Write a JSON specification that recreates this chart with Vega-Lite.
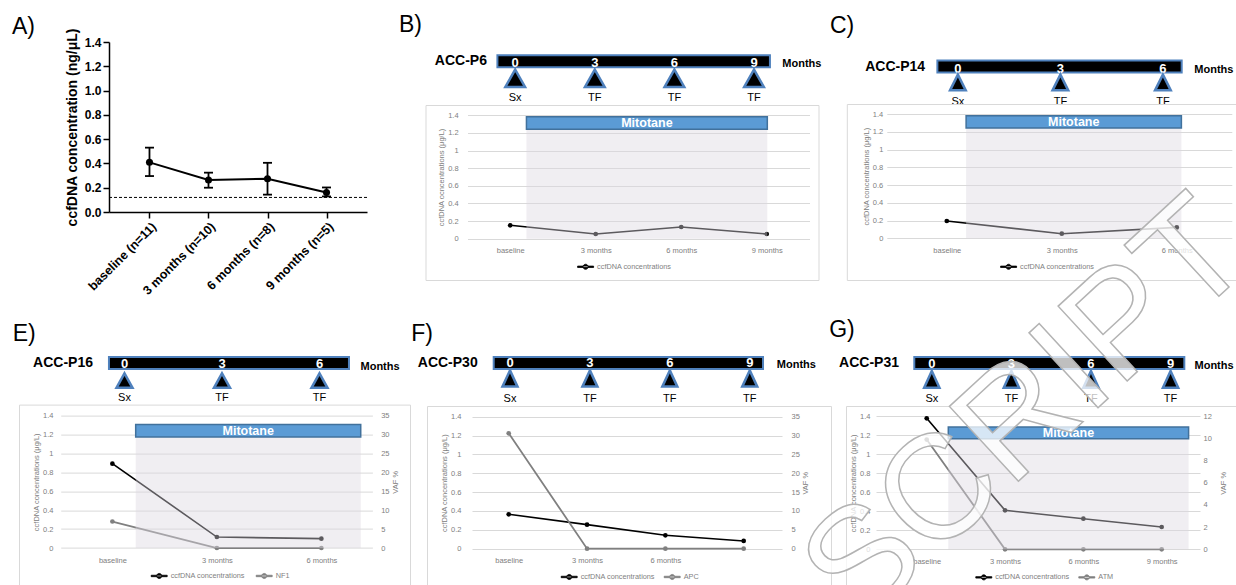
{
"$schema":"https://vega.github.io/schema/vega-lite/v6.json",
"background":"white",
"padding":{"left":11,"top":14,"right":0,"bottom":0},
"config":{"font":"Liberation Sans","view":{"stroke":null},
 "title":{"font":"Liberation Sans","fontSize":23,"fontWeight":"normal","color":"black","anchor":"start","baseline":"alphabetic","frame":"group"},
 "axis":{"labelFont":"Liberation Sans","titleFont":"Liberation Sans"},
 "legend":{"labelFont":"Liberation Sans"}},
"spacing":-124,
"resolve":{"scale":{"color":"independent"},"legend":{"color":"independent"}},
"vconcat":[
{"spacing":0,"resolve":{"scale":{"color":"independent"},"legend":{"color":"independent"}},"hconcat":[
 {"width":1,"height":1,"data":{"values":[]},"mark":{"type":"point"},"encoding":{}},
 {"spacing":30.5,"resolve":{"scale":{"color":"independent"},"legend":{"color":"independent"}},"hconcat":[
 {"title":{"text":"A)","dx":-97,"offset":-10.9},
  "width":258,"height":170,
  "data":{"values":[{"g":"baseline (n=11)","mean":0.409,"lo":0.296,"hi":0.53},{"g":"3 months (n=10)","mean":0.263,"lo":0.2,"hi":0.324},{"g":"6 months (n=8)","mean":0.274,"lo":0.143,"hi":0.405},{"g":"9 months (n=5)","mean":0.16,"lo":0.128,"hi":0.202}]},
  "layer":[
   {"data":{"values":[{"lod":0.12}]},"mark":{"type":"rule","color":"black","strokeWidth":1,"strokeDash":[3,2]},
    "encoding":{"y":{"field":"lod","type":"quantitative","title":"ccfDNA concentration (ng/μL)","scale":{"domain":[0,1.4],"nice":false},"axis":{"values":[0,0.2,0.4,0.6,0.8,1,1.2,1.4],"format":".1f","labelFontSize":12,"labelFontWeight":"bold","labelColor":"black","tickSize":6,"tickWidth":1.5,"tickColor":"black","domainColor":"black","domainWidth":1.5,"labelPadding":2,"grid":false,"titleFontSize":14,"titleFontWeight":"bold","titleColor":"black","titlePadding":5}}}},
   {"mark":{"type":"rule","color":"black","strokeWidth":1.8},
    "encoding":{"x":{"field":"g","type":"ordinal","sort":null,"title":null,"scale":{"type":"point","padding":0.686},"axis":{"labelAngle":-45,"labelFontSize":12.5,"labelFontWeight":"bold","labelColor":"black","tickSize":6,"tickWidth":1.5,"tickColor":"black","domainColor":"black","domainWidth":1.5,"labelPadding":2,"grid":false,"labelOverlap":false}},
     "y":{"field":"lo","type":"quantitative","title":"ccfDNA concentration (ng/μL)","scale":{"domain":[0,1.4],"nice":false},"axis":{"values":[0,0.2,0.4,0.6,0.8,1,1.2,1.4],"format":".1f","labelFontSize":12,"labelFontWeight":"bold","labelColor":"black","tickSize":6,"tickWidth":1.5,"tickColor":"black","domainColor":"black","domainWidth":1.5,"labelPadding":2,"grid":false,"titleFontSize":14,"titleFontWeight":"bold","titleColor":"black","titlePadding":5}},
     "y2":{"field":"hi"}}},
   {"mark":{"type":"tick","color":"black","thickness":1.8,"size":9,"opacity":1},
    "encoding":{"x":{"field":"g","type":"ordinal","sort":null,"title":null,"scale":{"type":"point","padding":0.686},"axis":{"labelAngle":-45,"labelFontSize":12.5,"labelFontWeight":"bold","labelColor":"black","tickSize":6,"tickWidth":1.5,"tickColor":"black","domainColor":"black","domainWidth":1.5,"labelPadding":2,"grid":false,"labelOverlap":false}},
     "y":{"field":"lo","type":"quantitative","title":"ccfDNA concentration (ng/μL)","scale":{"domain":[0,1.4],"nice":false},"axis":{"values":[0,0.2,0.4,0.6,0.8,1,1.2,1.4],"format":".1f","labelFontSize":12,"labelFontWeight":"bold","labelColor":"black","tickSize":6,"tickWidth":1.5,"tickColor":"black","domainColor":"black","domainWidth":1.5,"labelPadding":2,"grid":false,"titleFontSize":14,"titleFontWeight":"bold","titleColor":"black","titlePadding":5}}}},
   {"mark":{"type":"tick","color":"black","thickness":1.8,"size":9,"opacity":1},
    "encoding":{"x":{"field":"g","type":"ordinal","sort":null,"title":null,"scale":{"type":"point","padding":0.686},"axis":{"labelAngle":-45,"labelFontSize":12.5,"labelFontWeight":"bold","labelColor":"black","tickSize":6,"tickWidth":1.5,"tickColor":"black","domainColor":"black","domainWidth":1.5,"labelPadding":2,"grid":false,"labelOverlap":false}},
     "y":{"field":"hi","type":"quantitative","title":"ccfDNA concentration (ng/μL)","scale":{"domain":[0,1.4],"nice":false},"axis":{"values":[0,0.2,0.4,0.6,0.8,1,1.2,1.4],"format":".1f","labelFontSize":12,"labelFontWeight":"bold","labelColor":"black","tickSize":6,"tickWidth":1.5,"tickColor":"black","domainColor":"black","domainWidth":1.5,"labelPadding":2,"grid":false,"titleFontSize":14,"titleFontWeight":"bold","titleColor":"black","titlePadding":5}}}},
   {"mark":{"type":"line","color":"black","strokeWidth":2},
    "encoding":{"x":{"field":"g","type":"ordinal","sort":null,"title":null,"scale":{"type":"point","padding":0.686},"axis":{"labelAngle":-45,"labelFontSize":12.5,"labelFontWeight":"bold","labelColor":"black","tickSize":6,"tickWidth":1.5,"tickColor":"black","domainColor":"black","domainWidth":1.5,"labelPadding":2,"grid":false,"labelOverlap":false}},
     "y":{"field":"mean","type":"quantitative","title":"ccfDNA concentration (ng/μL)","scale":{"domain":[0,1.4],"nice":false},"axis":{"values":[0,0.2,0.4,0.6,0.8,1,1.2,1.4],"format":".1f","labelFontSize":12,"labelFontWeight":"bold","labelColor":"black","tickSize":6,"tickWidth":1.5,"tickColor":"black","domainColor":"black","domainWidth":1.5,"labelPadding":2,"grid":false,"titleFontSize":14,"titleFontWeight":"bold","titleColor":"black","titlePadding":5}}}},
   {"mark":{"type":"point","filled":true,"color":"black","size":50,"opacity":1},
    "encoding":{"x":{"field":"g","type":"ordinal","sort":null,"title":null,"scale":{"type":"point","padding":0.686},"axis":{"labelAngle":-45,"labelFontSize":12.5,"labelFontWeight":"bold","labelColor":"black","tickSize":6,"tickWidth":1.5,"tickColor":"black","domainColor":"black","domainWidth":1.5,"labelPadding":2,"grid":false,"labelOverlap":false}},
     "y":{"field":"mean","type":"quantitative","title":"ccfDNA concentration (ng/μL)","scale":{"domain":[0,1.4],"nice":false},"axis":{"values":[0,0.2,0.4,0.6,0.8,1,1.2,1.4],"format":".1f","labelFontSize":12,"labelFontWeight":"bold","labelColor":"black","tickSize":6,"tickWidth":1.5,"tickColor":"black","domainColor":"black","domainWidth":1.5,"labelPadding":2,"grid":false,"titleFontSize":14,"titleFontWeight":"bold","titleColor":"black","titlePadding":5}}}}
  ]},
 {"spacing":8.3,"resolve":{"scale":{"color":"independent"},"legend":{"color":"independent"}},"hconcat":[
  {"title":{"text":"B)","dx":-26.5,"offset":4.9},"bounds":"flush","spacing":37,
   "vconcat":[
    {"width":393,"height":25.3,
     "title":{"text":"ACC-P6","orient":"left","angle":0,"align":"right","baseline":"middle","anchor":"middle","offset":-113.6,"fontSize":14,"fontWeight":"bold","dy":6.65},
     "data":{"values":[{"m":0,"num":"0","ev":"Sx","track":"t"},{"m":3,"num":"3","ev":"TF","track":"t"},{"m":6,"num":"6","ev":"TF","track":"t"},{"m":9,"num":"9","ev":"TF","track":"t"}]},
     "encoding":{"x":{"field":"m","type":"quantitative","title":"Months","scale":{"domain":[-3.38,11.43],"nice":false,"zero":false},"axis":{"orient":"top","domain":false,"ticks":false,"labels":false,"grid":false,"titleX":356.3,"titleY":21.6,"titleAlign":"left","titleBaseline":"middle","titleAngle":0,"titleFontSize":11,"titleFontWeight":"bold","titleColor":"black","titlePadding":0}},
      "y":{"field":"track","type":"nominal","scale":{"range":[13.3,25.3],"paddingInner":0,"paddingOuter":0},"axis":null}},
     "layer":[
      {"data":{"values":[{"m":-0.67,"m2":9.6,"track":"t"}]},"mark":{"type":"rect","fill":"black","stroke":"#4f81bd","strokeWidth":2},"encoding":{"x2":{"field":"m2"}}},
      {"mark":{"type":"text","color":"white","fontSize":13,"fontWeight":"bold","baseline":"middle","dy":1.7},"encoding":{"text":{"field":"num"}}},
      {"mark":{"type":"point","shape":"M0,-0.88L1,0.88L-1,0.88Z","size":388,"filled":true,"fill":"black","stroke":"#4f81bd","strokeWidth":2.5,"opacity":1,"yOffset":17}},
      {"mark":{"type":"text","color":"black","fontSize":11,"baseline":"middle","dy":36.7},"encoding":{"text":{"field":"ev"}}}
     ]},
    {"width":393,"height":175,"view":{"stroke":"#d9d9d9","fill":"white"},
     "encoding":{
      "x":{"field":"m","type":"quantitative","title":null,"scale":{"domain":[-1.498,10.5],"range":[42,384],"nice":false,"zero":false},"axis":{"orient":"bottom","values":[0,3,6,9],"labelExpr":"datum.value == 0 ? 'baseline' : datum.value + ' months'","offset":-41.3,"domain":false,"ticks":false,"tickSize":0,"grid":false,"labelPadding":8,"labelFontSize":7.5,"labelColor":"#808080","labelAngle":0,"labelOverlap":false,"labelFlush":false}}},
     "layer":[
      {"data":{"values":[{"m":0,"v":0.152,"series":"ccfDNA concentrations"},{"m":3,"v":0.053,"series":"ccfDNA concentrations"},{"m":6,"v":0.133,"series":"ccfDNA concentrations"},{"m":9,"v":0.053,"series":"ccfDNA concentrations"}]},
       "encoding":{
        "y":{"field":"v","type":"quantitative","title":"ccfDNA ocncentrations (μg/L)","scale":{"domain":[0,1.4],"range":[133.7,10.3],"nice":false},"axis":{"orient":"left","values":[0,0.2,0.4,0.6,0.8,1,1.2,1.4],"format":"~g","offset":-42,"domain":false,"ticks":false,"tickSize":0,"labelPadding":9.4,"labelFontSize":7.5,"labelColor":"#808080","grid":true,"gridColor":"#d9d9d9","gridWidth":1,"titleFontSize":7.5,"titleFontWeight":"normal","titleColor":"#808080","titlePadding":2}},
        "color":{"field":"series","type":"nominal","scale":{"domain":["ccfDNA concentrations"],"range":["black"]},"legend":{"title":null,"orient":"none","legendX":151.6,"legendY":216.3,"direction":"horizontal","symbolType":"M-1,-0.09L1,-0.09L1,0.09L-1,0.09Z M-0.32,0A0.32,0.32,0,1,0,0.32,0A0.32,0.32,0,1,0,-0.32,0Z","symbolSize":256,"symbolStrokeWidth":0.8,"labelFontSize":7.3,"labelColor":"#7f7f7f","labelOffset":3,"columnPadding":8,"padding":0}}},
       "layer":[
        {"mark":{"type":"point","filled":true,"size":22,"opacity":1}},
        {"mark":{"type":"line","strokeWidth":1.6}}
       ]},
      {"data":{"values":[{"m":0.57,"m2":9.02,"drug":"Mitotane"}]},
       "encoding":{"x2":{"field":"m2"}},
       "layer":[
        {"mark":{"type":"rect","fill":"#dbd6e0","opacity":0.42},
         "encoding":{"y":{"datum":0,"type":"quantitative","title":"ccfDNA ocncentrations (μg/L)","scale":{"domain":[0,1.4],"range":[133.7,10.3],"nice":false},"axis":{"orient":"left","values":[0,0.2,0.4,0.6,0.8,1,1.2,1.4],"format":"~g","offset":-42,"domain":false,"ticks":false,"tickSize":0,"labelPadding":9.4,"labelFontSize":7.5,"labelColor":"#808080","grid":true,"gridColor":"#d9d9d9","gridWidth":1,"titleFontSize":7.5,"titleFontWeight":"normal","titleColor":"#808080","titlePadding":2}},"y2":{"datum":1.241}}},
        {"mark":{"type":"rect","fill":"#5b9bd5","stroke":"#41719c","strokeWidth":1.5},
         "encoding":{"y":{"datum":1.241,"type":"quantitative","title":"ccfDNA ocncentrations (μg/L)","scale":{"domain":[0,1.4],"range":[133.7,10.3],"nice":false},"axis":{"orient":"left","values":[0,0.2,0.4,0.6,0.8,1,1.2,1.4],"format":"~g","offset":-42,"domain":false,"ticks":false,"tickSize":0,"labelPadding":9.4,"labelFontSize":7.5,"labelColor":"#808080","grid":true,"gridColor":"#d9d9d9","gridWidth":1,"titleFontSize":7.5,"titleFontWeight":"normal","titleColor":"#808080","titlePadding":2}},"y2":{"datum":1.384}}}
       ]},
      {"data":{"values":[{"m":0.57,"m2":9.02,"drug":"Mitotane"}]},
       "transform":[{"calculate":"(datum.m + datum.m2) / 2","as":"mid"}],
       "mark":{"type":"text","color":"white","fontSize":12.5,"fontWeight":"bold","baseline":"middle"},
       "encoding":{
        "x":{"field":"mid","type":"quantitative","title":null,"scale":{"domain":[-1.498,10.5],"range":[42,384],"nice":false,"zero":false},"axis":{"orient":"bottom","values":[0,3,6,9],"labelExpr":"datum.value == 0 ? 'baseline' : datum.value + ' months'","offset":-41.3,"domain":false,"ticks":false,"tickSize":0,"grid":false,"labelPadding":8,"labelFontSize":7.5,"labelColor":"#808080","labelAngle":0,"labelOverlap":false,"labelFlush":false}},
        "y":{"datum":1.313,"type":"quantitative","title":"ccfDNA ocncentrations (μg/L)","scale":{"domain":[0,1.4],"range":[133.7,10.3],"nice":false},"axis":{"orient":"left","values":[0,0.2,0.4,0.6,0.8,1,1.2,1.4],"format":"~g","offset":-42,"domain":false,"ticks":false,"tickSize":0,"labelPadding":9.4,"labelFontSize":7.5,"labelColor":"#808080","grid":true,"gridColor":"#d9d9d9","gridWidth":1,"titleFontSize":7.5,"titleFontWeight":"normal","titleColor":"#808080","titlePadding":2}},
        "text":{"field":"drug"}}}
     ]}
   ]},
  {"title":{"text":"C)","dx":-16.8,"offset":3.9},"bounds":"flush","spacing":31,
   "vconcat":[
    {"width":390,"height":30.6,
     "title":{"text":"ACC-P14","orient":"left","angle":0,"align":"right","baseline":"middle","anchor":"middle","offset":-138.2,"fontSize":14,"fontWeight":"bold","dy":9.3},
     "data":{"values":[{"m":0,"num":"0","ev":"Sx","track":"t"},{"m":3,"num":"3","ev":"TF","track":"t"},{"m":6,"num":"6","ev":"TF","track":"t"}]},
     "encoding":{"x":{"field":"m","type":"quantitative","title":"Months","scale":{"domain":[-3.251,8.163],"nice":false,"zero":false},"axis":{"orient":"top","domain":false,"ticks":false,"labels":false,"grid":false,"titleX":347,"titleY":27.3,"titleAlign":"left","titleBaseline":"middle","titleAngle":0,"titleFontSize":11,"titleFontWeight":"bold","titleColor":"black","titlePadding":0}},
      "y":{"field":"track","type":"nominal","scale":{"range":[18.6,30.6],"paddingInner":0,"paddingOuter":0},"axis":null}},
     "layer":[
      {"data":{"values":[{"m":-0.6,"m2":6.55,"track":"t"}]},"mark":{"type":"rect","fill":"black","stroke":"#4f81bd","strokeWidth":2},"encoding":{"x2":{"field":"m2"}}},
      {"mark":{"type":"text","color":"white","fontSize":13,"fontWeight":"bold","baseline":"middle","dy":2},"encoding":{"text":{"field":"num"}}},
      {"mark":{"type":"point","shape":"M0,-1L1,1L-1,1Z","size":246,"filled":true,"fill":"black","stroke":"#4f81bd","strokeWidth":2.5,"opacity":1,"yOffset":15.9}},
      {"mark":{"type":"text","color":"black","fontSize":11,"baseline":"middle","dy":35.4},"encoding":{"text":{"field":"ev"}}}
     ]},
    {"width":390,"height":176,"view":{"stroke":"#d9d9d9","fill":"white"},
     "encoding":{
      "x":{"field":"m","type":"quantitative","title":null,"scale":{"domain":[-1.565,7.435],"range":[40,385],"nice":false,"zero":false},"axis":{"orient":"bottom","values":[0,3,6],"labelExpr":"datum.value == 0 ? 'baseline' : datum.value + ' months'","offset":-41.6,"domain":false,"ticks":false,"tickSize":0,"grid":false,"labelPadding":8,"labelFontSize":7.5,"labelColor":"#808080","labelAngle":0,"labelOverlap":false,"labelFlush":false}}},
     "layer":[
      {"data":{"values":[{"m":0,"v":0.196,"series":"ccfDNA concentrations"},{"m":3,"v":0.053,"series":"ccfDNA concentrations"},{"m":6,"v":0.124,"series":"ccfDNA concentrations"}]},
       "encoding":{
        "y":{"field":"v","type":"quantitative","title":"ccfDNA concentrations (μg/L)","scale":{"domain":[0,1.4],"range":[134.4,10],"nice":false},"axis":{"orient":"left","values":[0,0.2,0.4,0.6,0.8,1,1.2,1.4],"format":"~g","offset":-40,"domain":false,"ticks":false,"tickSize":0,"labelPadding":4,"labelFontSize":7.5,"labelColor":"#808080","grid":true,"gridColor":"#d9d9d9","gridWidth":1,"titleFontSize":7.5,"titleFontWeight":"normal","titleColor":"#808080","titlePadding":2}},
        "color":{"field":"series","type":"nominal","scale":{"domain":["ccfDNA concentrations"],"range":["black"]},"legend":{"title":null,"orient":"none","legendX":153.3,"legendY":216.3,"direction":"horizontal","symbolType":"M-1,-0.09L1,-0.09L1,0.09L-1,0.09Z M-0.32,0A0.32,0.32,0,1,0,0.32,0A0.32,0.32,0,1,0,-0.32,0Z","symbolSize":256,"symbolStrokeWidth":0.8,"labelFontSize":7.3,"labelColor":"#7f7f7f","labelOffset":3,"columnPadding":8,"padding":0}}},
       "layer":[
        {"mark":{"type":"point","filled":true,"size":22,"opacity":1}},
        {"mark":{"type":"line","strokeWidth":1.6}}
       ]},
      {"data":{"values":[{"m":0.504,"m2":6.12,"drug":"Mitotane"}]},
       "encoding":{"x2":{"field":"m2"}},
       "layer":[
        {"mark":{"type":"rect","fill":"#dbd6e0","opacity":0.42},
         "encoding":{"y":{"datum":0,"type":"quantitative","title":"ccfDNA concentrations (μg/L)","scale":{"domain":[0,1.4],"range":[134.4,10],"nice":false},"axis":{"orient":"left","values":[0,0.2,0.4,0.6,0.8,1,1.2,1.4],"format":"~g","offset":-40,"domain":false,"ticks":false,"tickSize":0,"labelPadding":4,"labelFontSize":7.5,"labelColor":"#808080","grid":true,"gridColor":"#d9d9d9","gridWidth":1,"titleFontSize":7.5,"titleFontWeight":"normal","titleColor":"#808080","titlePadding":2}},"y2":{"datum":1.242}}},
        {"mark":{"type":"rect","fill":"#5b9bd5","stroke":"#41719c","strokeWidth":1.5},
         "encoding":{"y":{"datum":1.242,"type":"quantitative","title":"ccfDNA concentrations (μg/L)","scale":{"domain":[0,1.4],"range":[134.4,10],"nice":false},"axis":{"orient":"left","values":[0,0.2,0.4,0.6,0.8,1,1.2,1.4],"format":"~g","offset":-40,"domain":false,"ticks":false,"tickSize":0,"labelPadding":4,"labelFontSize":7.5,"labelColor":"#808080","grid":true,"gridColor":"#d9d9d9","gridWidth":1,"titleFontSize":7.5,"titleFontWeight":"normal","titleColor":"#808080","titlePadding":2}},"y2":{"datum":1.381}}}
       ]},
      {"data":{"values":[{"m":0.504,"m2":6.12,"drug":"Mitotane"}]},
       "transform":[{"calculate":"(datum.m + datum.m2) / 2","as":"mid"}],
       "mark":{"type":"text","color":"white","fontSize":12.5,"fontWeight":"bold","baseline":"middle"},
       "encoding":{
        "x":{"field":"mid","type":"quantitative","title":null,"scale":{"domain":[-1.565,7.435],"range":[40,385],"nice":false,"zero":false},"axis":{"orient":"bottom","values":[0,3,6],"labelExpr":"datum.value == 0 ? 'baseline' : datum.value + ' months'","offset":-41.6,"domain":false,"ticks":false,"tickSize":0,"grid":false,"labelPadding":8,"labelFontSize":7.5,"labelColor":"#808080","labelAngle":0,"labelOverlap":false,"labelFlush":false}},
        "y":{"datum":1.313,"type":"quantitative","title":"ccfDNA concentrations (μg/L)","scale":{"domain":[0,1.4],"range":[134.4,10],"nice":false},"axis":{"orient":"left","values":[0,0.2,0.4,0.6,0.8,1,1.2,1.4],"format":"~g","offset":-40,"domain":false,"ticks":false,"tickSize":0,"labelPadding":4,"labelFontSize":7.5,"labelColor":"#808080","grid":true,"gridColor":"#d9d9d9","gridWidth":1,"titleFontSize":7.5,"titleFontWeight":"normal","titleColor":"#808080","titlePadding":2}},
        "text":{"field":"drug"}}}
     ]}
   ]}
 ]}
 ]}
]},
{"spacing":0,"resolve":{"scale":{"color":"independent"},"legend":{"color":"independent"}},"hconcat":[
 {"width":1,"height":1,"data":{"values":[]},"mark":{"type":"point"},"encoding":{}},
 {"spacing":0,"resolve":{"scale":{"color":"independent"},"legend":{"color":"independent"}},"hconcat":[
 {"title":{"text":"E)","dx":-6.3,"offset":10.4},"bounds":"flush","spacing":35.6,
  "vconcat":[
   {"width":391,"height":12,
    "title":{"text":"ACC-P16","orient":"left","angle":0,"align":"right","baseline":"middle","anchor":"middle","offset":-133.9,"fontSize":14,"fontWeight":"bold","dx":0},
    "data":{"values":[{"m":0,"num":"0","ev":"Sx"},{"m":3,"num":"3","ev":"TF"},{"m":6,"num":"6","ev":"TF"}]},
    "encoding":{"x":{"field":"m","type":"quantitative","title":"Months","scale":{"domain":[-3.246,8.785],"nice":false,"zero":false},"axis":{"orient":"top","domain":false,"ticks":false,"labels":false,"grid":false,"titleX":341,"titleY":9,"titleAlign":"left","titleBaseline":"middle","titleAngle":0,"titleFontSize":11,"titleFontWeight":"bold","titleColor":"black","titlePadding":0}}},
    "layer":[
     {"data":{"values":[{"m":-0.478,"m2":6.907}]},"mark":{"type":"rect","fill":"black","stroke":"#4f81bd","strokeWidth":2},"encoding":{"x2":{"field":"m2"}}},
     {"mark":{"type":"text","color":"white","fontSize":13,"fontWeight":"bold","baseline":"middle","dy":1.3},"encoding":{"text":{"field":"num"}}},
     {"mark":{"type":"point","shape":"M0,-0.9L1,0.9L-1,0.9Z","size":256,"filled":true,"fill":"black","stroke":"#4f81bd","strokeWidth":2.5,"opacity":1,"yOffset":17.6}},
     {"mark":{"type":"text","color":"black","fontSize":11,"baseline":"middle","dy":34.6},"encoding":{"text":{"field":"ev"}}}
    ]},
   {"width":391,"height":185,"view":{"stroke":"#d9d9d9","fill":"white"},
    "resolve":{"scale":{"y":"independent"},"axis":{"y":"independent"}},
    "encoding":{
     "x":{"field":"m","type":"quantitative","title":null,"scale":{"domain":[-1.484,7.465],"range":[41.7,353.4],"nice":false,"zero":false},"axis":{"orient":"bottom","values":[0,3,6],"labelExpr":"datum.value == 0 ? 'baseline' : datum.value + ' months'","offset":-41.6,"domain":false,"ticks":false,"tickSize":0,"grid":false,"labelPadding":8,"labelFontSize":7.5,"labelColor":"#808080","labelAngle":0,"labelOverlap":false,"labelFlush":false}},
     "color":{"field":"series","type":"nominal","scale":{"domain":["ccfDNA concentrations","NF1"],"range":["black","#808080"]},"legend":{"title":null,"orient":"none","legendX":131.7,"legendY":210.3,"direction":"horizontal","symbolType":"M-1,-0.09L1,-0.09L1,0.09L-1,0.09Z M-0.32,0A0.32,0.32,0,1,0,0.32,0A0.32,0.32,0,1,0,-0.32,0Z","symbolSize":256,"symbolStrokeWidth":0.8,"labelFontSize":7.3,"labelColor":"#7f7f7f","labelOffset":3,"columnPadding":8,"padding":0}}},
    "layer":[
     {"data":{"values":[{"m":0,"v":0.892,"series":"ccfDNA concentrations"},{"m":3,"v":0.116,"series":"ccfDNA concentrations"},{"m":6,"v":0.099,"series":"ccfDNA concentrations"}]},
      "encoding":{"y":{"field":"v","type":"quantitative","title":"ccfDNA concentrations (μg/L)","scale":{"domain":[0,1.4],"range":[143.4,11],"nice":false},"axis":{"orient":"left","values":[0,0.2,0.4,0.6,0.8,1,1.2,1.4],"format":"~g","offset":-41.7,"domain":false,"ticks":false,"tickSize":0,"labelPadding":7.7,"labelFontSize":7.5,"labelColor":"#808080","grid":true,"gridColor":"#d9d9d9","gridWidth":1,"titleFontSize":7.5,"titleFontWeight":"normal","titleColor":"#808080","titlePadding":2}}},
      "layer":[
       {"mark":{"type":"point","filled":true,"size":22,"opacity":1}},
       {"mark":{"type":"line","strokeWidth":1.6}}
      ]},
     {"data":{"values":[{"m":0,"vaf":7.0,"series":"NF1"},{"m":3,"vaf":0,"series":"NF1"},{"m":6,"vaf":0,"series":"NF1"}]},
      "encoding":{"y":{"field":"vaf","type":"quantitative","title":"VAF %","scale":{"domain":[0,35],"range":[143.4,11],"nice":false},"axis":{"orient":"right","values":[0,5,10,15,20,25,30,35],"format":"~g","offset":-37.6,"domain":false,"ticks":false,"tickSize":0,"labelPadding":8.3,"labelFontSize":7.5,"labelColor":"#808080","grid":false,"titleFontSize":7.5,"titleFontWeight":"normal","titleColor":"#808080","titlePadding":2,"titleAngle":-90,"titleBaseline":"top"}}},
      "layer":[
       {"mark":{"type":"point","filled":true,"size":22,"opacity":1}},
       {"mark":{"type":"line","strokeWidth":1.8}}
      ]},
     {"data":{"values":[{"m":0.669,"m2":7.13,"drug":"Mitotane"}]},
      "layer":[
       {"mark":{"type":"rect","fill":"#dbd6e0","opacity":0.42},
        "encoding":{"x2":{"field":"m2"},"color":{"value":"#dbd6e0"},"y":{"datum":0,"type":"quantitative","scale":{"domain":[0,1.4],"range":[143.4,11],"nice":false},"axis":null},"y2":{"datum":1.174}}},
       {"mark":{"type":"rect","fill":"#5b9bd5","stroke":"#41719c","strokeWidth":1.5},
        "encoding":{"x2":{"field":"m2"},"color":{"value":"#5b9bd5"},"y":{"datum":1.174,"type":"quantitative","scale":{"domain":[0,1.4],"range":[143.4,11],"nice":false},"axis":null},"y2":{"datum":1.305}}},
       {"transform":[{"calculate":"(datum.m + datum.m2) / 2","as":"mid"}],
        "mark":{"type":"text","fill":"white","fontSize":12.5,"fontWeight":"bold","baseline":"middle"},
        "encoding":{"x":{"field":"mid","type":"quantitative","title":null,"scale":{"domain":[-1.484,7.465],"range":[41.7,353.4],"nice":false,"zero":false},"axis":{"orient":"bottom","values":[0,3,6],"labelExpr":"datum.value == 0 ? 'baseline' : datum.value + ' months'","offset":-41.6,"domain":false,"ticks":false,"tickSize":0,"grid":false,"labelPadding":8,"labelFontSize":7.5,"labelColor":"#808080","labelAngle":0,"labelOverlap":false,"labelFlush":false}},"color":{"value":"white"},"y":{"datum":1.237,"type":"quantitative","scale":{"domain":[0,1.4],"range":[143.4,11],"nice":false},"axis":null},"text":{"field":"drug"}}}
      ]}
    ]}
  ]},
 {"spacing":-55,"resolve":{"scale":{"color":"independent"},"legend":{"color":"independent"}},"hconcat":[
 {"title":{"text":"F)","dx":-15.8,"offset":10.4},"bounds":"flush","spacing":37,
  "vconcat":[
   {"width":404,"height":12,
    "title":{"text":"ACC-P30","orient":"left","angle":0,"align":"right","baseline":"middle","anchor":"middle","offset":-110.6,"fontSize":14,"fontWeight":"bold","dx":0},
    "data":{"values":[{"m":0,"num":"0","ev":"Sx"},{"m":3,"num":"3","ev":"TF"},{"m":6,"num":"6","ev":"TF"},{"m":9,"num":"9","ev":"TF"}]},
    "encoding":{"x":{"field":"m","type":"quantitative","title":"Months","scale":{"domain":[-3.115,12.05],"nice":false,"zero":false},"axis":{"orient":"top","domain":false,"ticks":false,"labels":false,"grid":false,"titleX":349.3,"titleY":7.3,"titleAlign":"left","titleBaseline":"middle","titleAngle":0,"titleFontSize":11,"titleFontWeight":"bold","titleColor":"black","titlePadding":0}}},
    "layer":[
     {"data":{"values":[{"m":-0.611,"m2":9.498}]},"mark":{"type":"rect","fill":"black","stroke":"#4f81bd","strokeWidth":2},"encoding":{"x2":{"field":"m2"}}},
     {"mark":{"type":"text","color":"white","fontSize":13,"fontWeight":"bold","baseline":"middle","dy":0},"encoding":{"text":{"field":"num"}}},
     {"mark":{"type":"point","shape":"M0,-1.08L1,1.08L-1,1.08Z","size":225,"filled":true,"fill":"black","stroke":"#4f81bd","strokeWidth":2.5,"opacity":1,"yOffset":15.5}},
     {"mark":{"type":"text","color":"black","fontSize":11,"baseline":"middle","dy":35.7},"encoding":{"text":{"field":"ev"}}}
    ]},
   {"width":404,"height":185,"view":{"stroke":"#d9d9d9","fill":"white"},
    "resolve":{"scale":{"y":"independent"},"axis":{"y":"independent"}},
    "encoding":{
     "x":{"field":"m","type":"quantitative","title":null,"scale":{"domain":[-1.406,10.467],"range":[45,355],"nice":false,"zero":false},"axis":{"orient":"bottom","values":[0,3,6,9],"labelExpr":"datum.value == 0 ? 'baseline' : datum.value == 9 ? '' : datum.value + ' months'","offset":-42.3,"domain":false,"ticks":false,"tickSize":0,"grid":false,"labelPadding":8,"labelFontSize":7.5,"labelColor":"#808080","labelAngle":0,"labelOverlap":false,"labelFlush":false}},
     "color":{"field":"series","type":"nominal","scale":{"domain":["ccfDNA concentrations","APC"],"range":["black","#808080"]},"legend":{"title":null,"orient":"none","legendX":133.7,"legendY":211.3,"direction":"horizontal","symbolType":"M-1,-0.09L1,-0.09L1,0.09L-1,0.09Z M-0.32,0A0.32,0.32,0,1,0,0.32,0A0.32,0.32,0,1,0,-0.32,0Z","symbolSize":256,"symbolStrokeWidth":0.8,"labelFontSize":7.3,"labelColor":"#7f7f7f","labelOffset":3,"columnPadding":6,"padding":0}}},
    "layer":[
     {"data":{"values":[{"m":0,"v":0.365,"series":"ccfDNA concentrations"},{"m":3,"v":0.255,"series":"ccfDNA concentrations"},{"m":6,"v":0.142,"series":"ccfDNA concentrations"},{"m":9,"v":0.082,"series":"ccfDNA concentrations"}]},
      "encoding":{"y":{"field":"v","type":"quantitative","title":"ccfDNA concentrations (μg/L)","scale":{"domain":[0,1.4],"range":[142.7,10.7],"nice":false},"axis":{"orient":"left","values":[0,0.2,0.4,0.6,0.8,1,1.2,1.4],"format":"~g","offset":-45,"domain":false,"ticks":false,"tickSize":0,"labelPadding":11,"labelFontSize":7.5,"labelColor":"#808080","grid":true,"gridColor":"#d9d9d9","gridWidth":1,"titleFontSize":7.5,"titleFontWeight":"normal","titleColor":"#808080","titlePadding":2}}},
      "layer":[
       {"mark":{"type":"point","filled":true,"size":22,"opacity":1}},
       {"mark":{"type":"line","strokeWidth":1.6}}
      ]},
     {"data":{"values":[{"m":0,"vaf":30.6,"series":"APC"},{"m":3,"vaf":0,"series":"APC"},{"m":6,"vaf":0,"series":"APC"},{"m":9,"vaf":0,"series":"APC"}]},
      "encoding":{"y":{"field":"vaf","type":"quantitative","title":"VAF %","scale":{"domain":[0,35],"range":[142.7,10.7],"nice":false},"axis":{"orient":"right","values":[0,5,10,15,20,25,30,35],"format":"~g","offset":-49,"domain":false,"ticks":false,"tickSize":0,"labelPadding":9,"labelFontSize":7.5,"labelColor":"#808080","grid":false,"titleFontSize":7.5,"titleFontWeight":"normal","titleColor":"#808080","titlePadding":2,"titleAngle":-90,"titleBaseline":"top"}}},
      "layer":[
       {"mark":{"type":"point","filled":true,"size":22,"opacity":1}},
       {"mark":{"type":"line","strokeWidth":1.8}}
      ]}
    ]}
  ]},
 {"title":{"text":"G)","dx":-16.8,"offset":-168.3},"bounds":"flush","spacing":37,
  "vconcat":[
   {"width":390,"height":12,
    "title":{"text":"ACC-P31","orient":"left","angle":0,"align":"right","baseline":"middle","anchor":"middle","offset":-112.9,"fontSize":14,"fontWeight":"bold","dx":0},
    "data":{"values":[{"m":0,"num":"0","ev":"Sx"},{"m":3,"num":"3","ev":"TF"},{"m":6,"num":"6","ev":"TF"},{"m":9,"num":"9","ev":"TF"}]},
    "encoding":{"x":{"field":"m","type":"quantitative","title":"Months","scale":{"domain":[-3.234,11.466],"nice":false,"zero":false},"axis":{"orient":"top","domain":false,"ticks":false,"labels":false,"grid":false,"titleX":348,"titleY":8,"titleAlign":"left","titleBaseline":"middle","titleAngle":0,"titleFontSize":11,"titleFontWeight":"bold","titleColor":"black","titlePadding":0}}},
    "layer":[
     {"data":{"values":[{"m":-0.66,"m2":9.518}]},"mark":{"type":"rect","fill":"black","stroke":"#4f81bd","strokeWidth":2},"encoding":{"x2":{"field":"m2"}}},
     {"mark":{"type":"text","color":"white","fontSize":13,"fontWeight":"bold","baseline":"middle","dy":1.3},"encoding":{"text":{"field":"num"}}},
     {"mark":{"type":"point","shape":"M0,-1.09L1,1.09L-1,1.09Z","size":234,"filled":true,"fill":"black","stroke":"#4f81bd","strokeWidth":2.5,"opacity":1,"yOffset":16.3}},
     {"mark":{"type":"text","color":"black","fontSize":11,"baseline":"middle","dy":35.7},"encoding":{"text":{"field":"ev"}}}
    ]},
   {"width":390,"height":185,"view":{"stroke":"#d9d9d9","fill":"white"},
    "resolve":{"scale":{"y":"independent"},"axis":{"y":"independent"}},
    "encoding":{
     "color":{"field":"series","type":"nominal","scale":{"domain":["ccfDNA concentrations","ATM"],"range":["black","#808080"]},"legend":{"title":null,"orient":"none","legendX":129.3,"legendY":211.7,"direction":"horizontal","symbolType":"M-1,-0.09L1,-0.09L1,0.09L-1,0.09Z M-0.32,0A0.32,0.32,0,1,0,0.32,0A0.32,0.32,0,1,0,-0.32,0Z","symbolSize":256,"symbolStrokeWidth":0.8,"labelFontSize":7.3,"labelColor":"#7f7f7f","labelOffset":3,"columnPadding":6,"padding":0}}},
    "layer":[
     {"data":{"values":[{"m":0,"v":1.379,"series":"ccfDNA concentrations"},{"m":3,"v":0.41,"series":"ccfDNA concentrations"},{"m":6,"v":0.322,"series":"ccfDNA concentrations"},{"m":9,"v":0.235,"series":"ccfDNA concentrations"}]},
      "encoding":{
       "x":{"field":"m","type":"quantitative","title":null,"scale":{"domain":[-1.942,10.467],"range":[30,354],"nice":false,"zero":false},"axis":{"orient":"bottom","values":[0,3,6,9],"labelExpr":"datum.value == 0 ? 'baseline' : datum.value + ' months'","offset":-41.7,"domain":false,"ticks":false,"tickSize":0,"grid":false,"labelPadding":8,"labelFontSize":7.5,"labelColor":"#808080","labelAngle":0,"labelOverlap":false,"labelFlush":false}},
       "y":{"field":"v","type":"quantitative","title":"ccfDNA concentrations (μg/L)","scale":{"domain":[0,1.4],"range":[143.3,10.3],"nice":false},"axis":{"orient":"left","values":[0,0.2,0.4,0.6,0.8,1,1.2,1.4],"format":"~g","offset":-30,"domain":false,"ticks":false,"tickSize":0,"labelPadding":6,"labelFontSize":7.5,"labelColor":"#808080","grid":true,"gridColor":"#d9d9d9","gridWidth":1,"titleFontSize":7.5,"titleFontWeight":"normal","titleColor":"#808080","titlePadding":2}}},
      "layer":[
       {"mark":{"type":"point","filled":true,"size":22,"opacity":1}},
       {"mark":{"type":"line","strokeWidth":1.6}}
      ]},
     {"data":{"values":[{"m":0,"vaf":9.9,"series":"ATM"},{"m":3,"vaf":0,"series":"ATM"},{"m":6,"vaf":0,"series":"ATM"},{"m":9,"vaf":0,"series":"ATM"}]},
      "encoding":{
       "x":{"field":"m","type":"quantitative","title":null,"scale":{"domain":[-1.942,10.467],"range":[30,354],"nice":false,"zero":false},"axis":{"orient":"bottom","values":[0,3,6,9],"labelExpr":"datum.value == 0 ? 'baseline' : datum.value + ' months'","offset":-41.7,"domain":false,"ticks":false,"tickSize":0,"grid":false,"labelPadding":8,"labelFontSize":7.5,"labelColor":"#808080","labelAngle":0,"labelOverlap":false,"labelFlush":false}},
       "y":{"field":"vaf","type":"quantitative","title":"VAF %","scale":{"domain":[0,12],"range":[143.3,10.3],"nice":false},"axis":{"orient":"right","values":[0,2,4,6,8,10,12],"format":"~g","offset":-36,"domain":false,"ticks":false,"tickSize":0,"labelPadding":3,"labelFontSize":7.5,"labelColor":"#808080","grid":false,"titleFontSize":7.5,"titleFontWeight":"normal","titleColor":"#808080","titlePadding":8,"titleAngle":-90,"titleBaseline":"top"}}},
      "layer":[
       {"mark":{"type":"point","filled":true,"size":22,"opacity":1}},
       {"mark":{"type":"line","strokeWidth":1.8}}
      ]},
     {"data":{"values":[{"m":0.827,"m2":10.03,"drug":"Mitotane"}]},
      "encoding":{
       "x":{"field":"m","type":"quantitative","title":null,"scale":{"domain":[-1.942,10.467],"range":[30,354],"nice":false,"zero":false},"axis":{"orient":"bottom","values":[0,3,6,9],"labelExpr":"datum.value == 0 ? 'baseline' : datum.value + ' months'","offset":-41.7,"domain":false,"ticks":false,"tickSize":0,"grid":false,"labelPadding":8,"labelFontSize":7.5,"labelColor":"#808080","labelAngle":0,"labelOverlap":false,"labelFlush":false}}},
      "layer":[
       {"mark":{"type":"rect","fill":"#dbd6e0","opacity":0.42},
        "encoding":{"x2":{"field":"m2"},"color":{"value":"#dbd6e0"},"y":{"datum":0,"type":"quantitative","scale":{"domain":[0,1.4],"range":[143.3,10.3],"nice":false},"axis":null},"y2":{"datum":1.164}}},
       {"mark":{"type":"rect","fill":"#5b9bd5","stroke":"#41719c","strokeWidth":1.5},
        "encoding":{"x2":{"field":"m2"},"color":{"value":"#5b9bd5"},"y":{"datum":1.164,"type":"quantitative","scale":{"domain":[0,1.4],"range":[143.3,10.3],"nice":false},"axis":null},"y2":{"datum":1.287}}},
       {"transform":[{"calculate":"(datum.m + datum.m2) / 2","as":"mid"}],
        "mark":{"type":"text","fill":"white","fontSize":12.5,"fontWeight":"bold","baseline":"middle"},
        "encoding":{"x":{"field":"mid","type":"quantitative","title":null,"scale":{"domain":[-1.942,10.467],"range":[30,354],"nice":false,"zero":false},"axis":{"orient":"bottom","values":[0,3,6,9],"labelExpr":"datum.value == 0 ? 'baseline' : datum.value + ' months'","offset":-41.7,"domain":false,"ticks":false,"tickSize":0,"grid":false,"labelPadding":8,"labelFontSize":7.5,"labelColor":"#808080","labelAngle":0,"labelOverlap":false,"labelFlush":false}},"color":{"value":"white"},"y":{"datum":1.227,"type":"quantitative","scale":{"domain":[0,1.4],"range":[143.3,10.3],"nice":false},"axis":null},"text":{"field":"drug"}}}
      ]},
     {"data":{"values":[{"wm":"SCRIPT"}]},
      "mark":{"type":"text","font":"Liberation Sans","fontSize":148,"angle":-42.7,"align":"center","baseline":"middle","fillOpacity":0.75,"stroke":"#b3b3b3","strokeWidth":1.5,"dx":48.7,"dy":-72.0},
      "encoding":{"text":{"field":"wm"},"color":{"value":"white"}}}
    ]}
  ]}
 ]}
 ]}
]}
]
}
